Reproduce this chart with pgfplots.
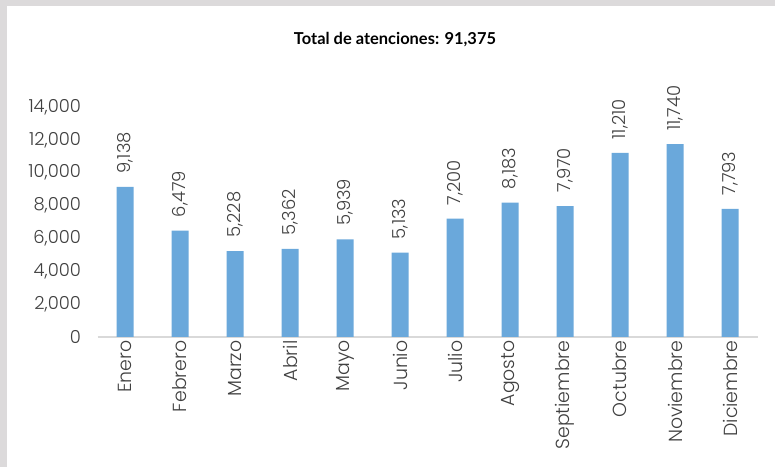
\documentclass[border=0pt]{standalone}
\usepackage{fontspec}
\setmainfont{Poppins}[UprightFont=* Light]
\newfontfamily\titlefont{Lato}
\usepackage{pgfplots}
\pgfplotsset{compat=1.18}

\definecolor{barblue}{RGB}{106,168,219}
\definecolor{framegray}{RGB}{220,218,219}
\definecolor{axisgray}{RGB}{217,217,217}
\definecolor{txt}{RGB}{64,64,64}

\begin{document}
\begin{tikzpicture}[x=1bp,y=1bp]
  \fill[framegray] (0,0) rectangle (775,467);
  \fill[white] (7,0) rectangle (775,461);
  \node[font=\titlefont\bfseries\fontsize{16.5}{18}\selectfont, text=black] at (395,427) {Total de atenciones: 91,375};
  \begin{axis}[
    at={(97.5bp,130bp)}, anchor=south west,
    scale only axis,
    width=660bp, height=230bp,
    xmin=-0.5, xmax=11.5,
    ymin=0, ymax=14000,
    ytick={0,2000,...,14000},
    scaled y ticks=false,
    xtick=data,
    xticklabels={Enero,Febrero,Marzo,Abril,Mayo,Junio,Julio,Agosto,Septiembre,Octubre,Noviembre,Diciembre},
    axis y line*=left,
    axis x line*=bottom,
    y axis line style={draw=none},
    x axis line style={axisgray, line width=1.2pt, -},
    ytick style={draw=none}, xtick style={draw=none},
    /pgf/number format/assume math mode=true,
    /pgf/number format/.cd, fixed, 1000 sep={,}, /pgfplots/.cd,
    yticklabel style={font=\fontsize{18}{20}\selectfont, text=txt, anchor=east, xshift=-13bp},
    xticklabel style={font=\fontsize{19}{21}\selectfont, text=txt, rotate=90, anchor=east},
    clip=false,
  ]
    \addplot[ybar, bar width=17bp, fill=barblue, draw=none,
      nodes near coords={\pgfmathprintnumber[assume math mode=true,fixed,1000 sep={,}]{\pgfplotspointmeta}},
      nodes near coords style={rotate=90, anchor=west, font=\fontsize{18}{20}\selectfont, text=txt, xshift=10bp}]
      coordinates {(0,9138) (1,6479) (2,5228) (3,5362) (4,5939) (5,5133)
                   (6,7200) (7,8183) (8,7970) (9,11210) (10,11740) (11,7793)};
  \end{axis}
\end{tikzpicture}
\end{document}
